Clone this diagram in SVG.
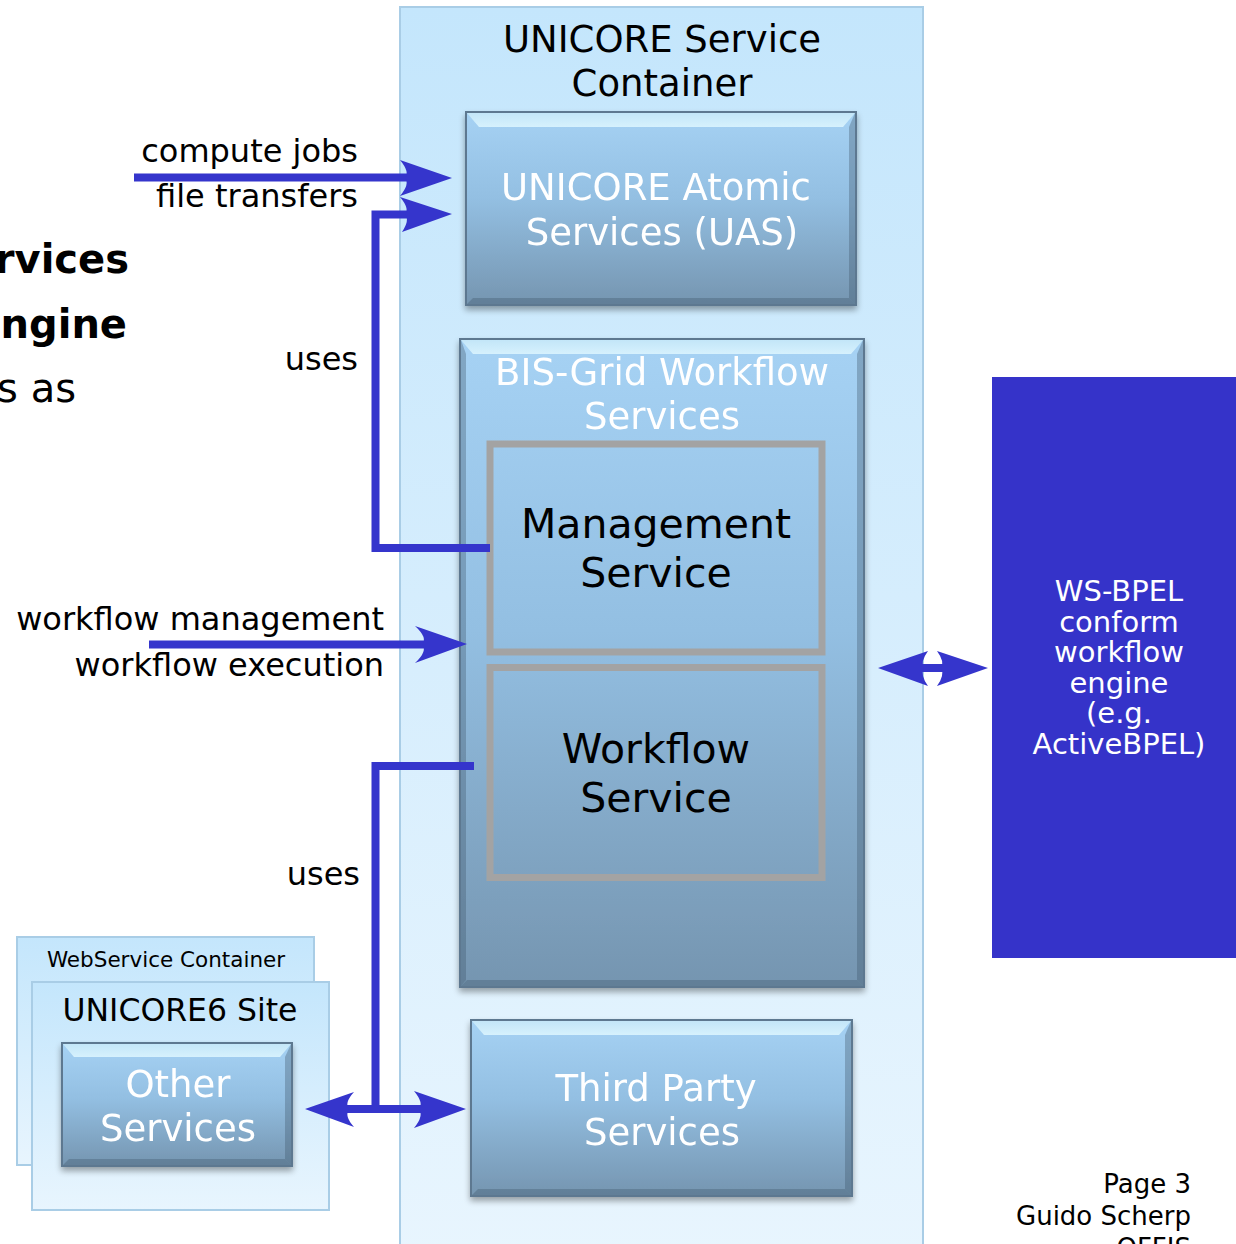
<svg xmlns="http://www.w3.org/2000/svg" width="1236" height="1244" viewBox="0 0 1236 1244">
<defs>
<linearGradient id="contGrad" x1="0" y1="0" x2="0" y2="1">
<stop offset="0" stop-color="#c4e6fc"/>
<stop offset="1" stop-color="#e8f5fe"/>
</linearGradient>
<linearGradient id="boxGrad" x1="0" y1="0" x2="0" y2="1">
<stop offset="0" stop-color="#a6d2f4"/>
<stop offset="0.45" stop-color="#93bfe2"/>
<stop offset="1" stop-color="#7595b0"/>
</linearGradient>
<linearGradient id="topBevel" x1="0" y1="0" x2="0" y2="1">
<stop offset="0" stop-color="#c3e6f8"/>
<stop offset="1" stop-color="#d6f1fd"/>
</linearGradient>
<filter id="shadow" x="-5%" y="-5%" width="110%" height="115%">
<feGaussianBlur in="SourceAlpha" stdDeviation="3"/>
<feOffset dx="0" dy="4" result="b"/>
<feComponentTransfer><feFuncA type="linear" slope="0.35"/></feComponentTransfer>
<feMerge><feMergeNode/><feMergeNode in="SourceGraphic"/></feMerge>
</filter>
</defs>
<style>
text { font-family: "DejaVu Sans", "Liberation Sans", sans-serif; }
.cont { fill: url(#contGrad); stroke: #a9cde6; stroke-width: 2; }
.box { fill: url(#boxGrad); stroke: #5d7890; stroke-width: 2; }
.bevel { fill: url(#topBevel); }
.side { fill: #ffffff; opacity: 0.18; }
.dark { fill: #3f5669; opacity: 0.35; }
.inner { fill: none; stroke: #a3a3a3; stroke-width: 7; }
.wt { fill: #ffffff; font-size: 37px; text-anchor: middle; }
.bt { fill: #000000; font-size: 41px; text-anchor: middle; }
.lbl { fill: #000000; font-size: 32px; text-anchor: end; }
.line { stroke: #3535cc; fill: none; stroke-width: 8; }
.head { fill: #3535cc; }
</style>

<g id="left-text">
<text x="129" y="273" font-size="40" font-weight="bold" text-anchor="end">rvices</text>
<text x="127" y="338" font-size="40" font-weight="bold" text-anchor="end">ngine</text>
<text x="76" y="402" font-size="40" text-anchor="end">s as</text>
</g>

<g id="unicore-service-container">
<rect class="cont" x="400" y="7" width="523" height="1250"/>
<text x="662" y="52" font-size="37" text-anchor="middle">UNICORE Service</text>
<text x="662" y="96" font-size="37" text-anchor="middle">Container</text>
</g>

<g id="uas" filter="url(#shadow)">
<rect class="box" x="466" y="112" width="390" height="193"/>
<polygon class="bevel" points="467,113 855,113 843,127 479,127"/>
<polygon class="dark" points="467,304 855,304 849,298 473,298"/>
<polygon class="dark" points="855,113 855,304 849,298 849,127"/>
<text class="wt" x="656" y="200">UNICORE Atomic</text>
<text class="wt" x="662" y="245">Services (UAS)</text>
</g>

<g id="bis-grid" filter="url(#shadow)">
<rect class="box" x="460" y="339" width="404" height="648"/>
<polygon class="bevel" points="461,340 863,340 851,354 473,354"/>
<polygon class="dark" points="461,986 863,986 857,980 467,980"/>
<polygon class="dark" points="863,340 863,986 857,980 857,354"/>
<polygon class="dark" points="461,340 461,986 466,980 466,354" opacity="0.2"/>
<text class="wt" x="662" y="385">BIS-Grid Workflow</text>
<text class="wt" x="662" y="429">Services</text>
</g>

<g id="management-service">
<rect class="inner" x="490" y="444" width="332" height="208"/>
<text class="bt" x="656" y="538">Management</text>
<text class="bt" x="656" y="587">Service</text>
</g>

<g id="workflow-service">
<rect class="inner" x="490" y="667.5" width="332" height="210"/>
<text class="bt" x="656" y="763">Workflow</text>
<text class="bt" x="656" y="812">Service</text>
</g>

<g id="third-party" filter="url(#shadow)">
<rect class="box" x="471" y="1020" width="381" height="176"/>
<polygon class="bevel" points="472,1021 851,1021 839,1035 484,1035"/>
<polygon class="dark" points="472,1195 851,1195 845,1189 478,1189"/>
<polygon class="dark" points="851,1021 851,1195 845,1189 845,1035"/>
<text class="wt" x="656" y="1101">Third Party</text>
<text class="wt" x="662" y="1145">Services</text>
</g>

<g id="ws-bpel">
<rect x="992" y="377" width="244" height="581" fill="#3533c9"/>
<g fill="#ffffff" font-size="29" text-anchor="middle">
<text x="1119" y="601">WS-BPEL</text>
<text x="1119" y="632">conform</text>
<text x="1119" y="662">workflow</text>
<text x="1119" y="693">engine</text>
<text x="1119" y="723">(e.g.</text>
<text x="1119" y="754">ActiveBPEL)</text>
</g>
</g>

<g id="webservice-container">
<rect class="cont" x="17" y="937" width="297" height="228"/>
<text x="166" y="967" font-size="21.5" text-anchor="middle">WebService Container</text>
</g>

<g id="unicore6-site">
<rect class="cont" x="32" y="982" width="297" height="228"/>
<text x="180" y="1021" font-size="31.5" text-anchor="middle">UNICORE6 Site</text>
</g>

<g id="other-services" filter="url(#shadow)">
<rect class="box" x="62" y="1043" width="230" height="123"/>
<polygon class="bevel" points="63,1044 291,1044 280,1057 74,1057"/>
<polygon class="dark" points="63,1165 291,1165 285,1159 69,1159"/>
<polygon class="dark" points="291,1044 291,1165 285,1159 285,1057"/>
<text class="wt" x="178" y="1097">Other</text>
<text class="wt" x="178" y="1141">Services</text>
</g>

<g id="connectors">
<!-- compute jobs -->
<line class="line" x1="134" y1="177.5" x2="420" y2="177.5" stroke-width="9"/>
<path class="head" d="M452,178 L400,160 Q410,172 405,178 Q410,184 400,196 Z"/>
<!-- file transfers / uses (management) -->
<polyline class="line" points="490,548 375.5,548 375.5,214.5 420,214.5" stroke-width="7"/>
<path class="head" d="M452,214 L400,197 Q410,209 405,214 Q410,220 402,232 Z"/>
<!-- workflow management -->
<line class="line" x1="149" y1="644.5" x2="430" y2="644.5" stroke-width="9"/>
<path class="head" d="M467,644 L415,626 Q428,638 422,644 Q428,651 415,663 Z"/>
<!-- uses (workflow) to other / third party -->
<polyline class="line" points="474,766 375.5,766 375.5,1109" stroke-width="7"/>
<line class="line" x1="345" y1="1109" x2="425" y2="1109" stroke-width="8"/>
<path class="head" d="M305,1109 L354,1092 Q344,1103 349,1109 Q344,1116 354,1127 Z"/>
<path class="head" d="M466,1109 L414,1091 Q424,1103 419,1109 Q424,1116 414,1128 Z"/>
<!-- BIS-Grid to WS-BPEL -->
<line class="line" x1="920" y1="668" x2="945" y2="668" stroke-width="6"/>
<path class="head" d="M878,668 L928,651 Q920,662 924,668 Q920,675 928,686 Z"/>
<path class="head" d="M988,668 L937,651 Q945,662 941,668 Q945,675 937,686 Z"/>
</g>

<g id="labels">
<text class="lbl" x="358" y="162">compute jobs</text>
<text class="lbl" x="358" y="207">file transfers</text>
<text class="lbl" x="358" y="370">uses</text>
<text class="lbl" x="384" y="630">workflow management</text>
<text class="lbl" x="384" y="676">workflow execution</text>
<text class="lbl" x="360" y="885">uses</text>
</g>

<g id="footer" font-size="26" text-anchor="end">
<text x="1191" y="1193">Page 3</text>
<text x="1191" y="1225">Guido Scherp</text>
<text x="1191" y="1257">OFFIS</text>
</g>
</svg>
